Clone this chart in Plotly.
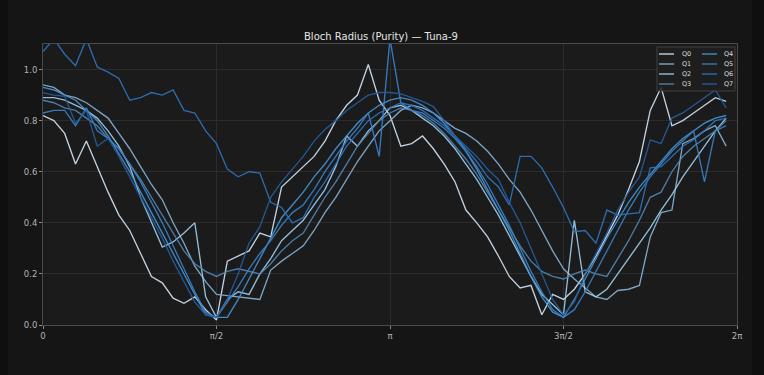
import math
import plotly.graph_objects as go

# Sampling phase: 64 points over one full turn (endpoint excluded)
n_points = 64
phase = [2 * math.pi * k / n_points for k in range(n_points)]

qubits = ["Q0", "Q1", "Q2", "Q3", "Q4", "Q5", "Q6", "Q7"]

q0 = [0.82, 0.80, 0.75, 0.63, 0.72, 0.62, 0.52, 0.43, 0.37, 0.28, 0.19, 0.165, 0.105, 0.085, 0.11, 0.06,
      0.02, 0.25, 0.27, 0.29, 0.36, 0.345, 0.54, 0.58, 0.62, 0.66, 0.72, 0.80, 0.86, 0.90, 1.02, 0.88,
      0.82, 0.70, 0.71, 0.74, 0.69, 0.63, 0.56, 0.45, 0.40, 0.345, 0.27, 0.19, 0.145, 0.155, 0.04, 0.12,
      0.10, 0.14, 0.20, 0.27, 0.35, 0.43, 0.53, 0.64, 0.84, 0.93, 0.78, 0.80, 0.83, 0.86, 0.89, 0.875]
q1 = [0.94, 0.93, 0.90, 0.89, 0.87, 0.84, 0.81, 0.75, 0.69, 0.62, 0.55, 0.49, 0.40, 0.32, 0.23, 0.17,
      0.12, 0.115, 0.11, 0.105, 0.10, 0.215, 0.25, 0.28, 0.31, 0.37, 0.44, 0.50, 0.57, 0.64, 0.70, 0.76,
      0.80, 0.84, 0.86, 0.85, 0.83, 0.80, 0.77, 0.75, 0.72, 0.68, 0.63, 0.57, 0.52, 0.45, 0.37, 0.29,
      0.22, 0.18, 0.145, 0.11, 0.10, 0.135, 0.14, 0.155, 0.345, 0.44, 0.45, 0.71, 0.73, 0.76, 0.78, 0.70]
q2 = [0.89, 0.89, 0.88, 0.86, 0.84, 0.81, 0.76, 0.70, 0.62, 0.50, 0.40, 0.305, 0.325, 0.36, 0.40, 0.11,
      0.03, 0.10, 0.13, 0.12, 0.20, 0.26, 0.33, 0.37, 0.41, 0.47, 0.53, 0.62, 0.74, 0.70, 0.76, 0.80,
      0.85, 0.86, 0.84, 0.81, 0.78, 0.74, 0.69, 0.63, 0.57, 0.50, 0.43, 0.35, 0.27, 0.19, 0.12, 0.08,
      0.04, 0.41, 0.13, 0.11, 0.14, 0.20, 0.26, 0.32, 0.38, 0.45, 0.51, 0.58, 0.64, 0.70, 0.76, 0.81]
q3 = [0.88, 0.87, 0.85, 0.84, 0.81, 0.78, 0.73, 0.69, 0.63, 0.57, 0.50, 0.43, 0.36, 0.29, 0.24, 0.21,
      0.19, 0.21, 0.22, 0.21, 0.20, 0.24, 0.29, 0.33, 0.36, 0.43, 0.50, 0.56, 0.63, 0.70, 0.75, 0.80,
      0.83, 0.85, 0.84, 0.82, 0.79, 0.75, 0.70, 0.65, 0.59, 0.52, 0.45, 0.38, 0.31, 0.25, 0.21, 0.19,
      0.18, 0.20, 0.215, 0.20, 0.19, 0.26, 0.33, 0.41, 0.50, 0.52, 0.60, 0.66, 0.70, 0.73, 0.76, 0.78]
q4 = [0.93, 0.92, 0.90, 0.88, 0.84, 0.80, 0.74, 0.67, 0.60, 0.52, 0.44, 0.36, 0.28, 0.20, 0.12, 0.04,
      0.03, 0.03, 0.10, 0.18, 0.26, 0.34, 0.42, 0.47, 0.52, 0.58, 0.63, 0.69, 0.74, 0.79, 0.83, 0.86,
      0.88, 0.89, 0.88, 0.86, 0.83, 0.79, 0.74, 0.68, 0.61, 0.53, 0.45, 0.37, 0.28, 0.19, 0.11, 0.05,
      0.03, 0.10, 0.18, 0.26, 0.34, 0.41, 0.48, 0.54, 0.59, 0.64, 0.69, 0.73, 0.76, 0.79, 0.81, 0.82]
q5 = [0.83, 0.84, 0.84, 0.78, 0.85, 0.76, 0.73, 0.69, 0.63, 0.56, 0.48, 0.40, 0.31, 0.22, 0.13, 0.05,
      0.03, 0.09, 0.15, 0.22, 0.28, 0.33, 0.39, 0.44, 0.47, 0.53, 0.60, 0.66, 0.72, 0.77, 0.83, 0.66,
      1.12, 0.87, 0.84, 0.83, 0.80, 0.77, 0.73, 0.68, 0.62, 0.55, 0.47, 0.39, 0.30, 0.21, 0.13, 0.06,
      0.03, 0.06, 0.13, 0.21, 0.29, 0.37, 0.45, 0.52, 0.58, 0.63, 0.68, 0.72, 0.76, 0.56, 0.76, 0.80]
q6 = [1.07, 1.12, 1.06, 1.015, 1.12, 1.01, 0.99, 0.965, 0.88, 0.89, 0.91, 0.90, 0.92, 0.84, 0.83, 0.76,
      0.71, 0.61, 0.58, 0.60, 0.595, 0.48, 0.46, 0.40, 0.42, 0.50, 0.56, 0.63, 0.70, 0.75, 0.80, 0.83,
      0.85, 0.87, 0.86, 0.84, 0.81, 0.78, 0.74, 0.69, 0.64, 0.58, 0.54, 0.47, 0.66, 0.66, 0.615, 0.54,
      0.46, 0.365, 0.37, 0.32, 0.45, 0.43, 0.435, 0.44, 0.615, 0.62, 0.66, 0.70, 0.725, 0.76, 0.80, 0.81]
q7 = [0.91, 0.90, 0.895, 0.79, 0.84, 0.70, 0.73, 0.66, 0.58, 0.50, 0.42, 0.34, 0.25, 0.17, 0.09, 0.04,
      0.03, 0.10, 0.20, 0.32, 0.385, 0.50, 0.56, 0.61, 0.66, 0.72, 0.765, 0.80, 0.84, 0.87, 0.90, 0.91,
      0.91, 0.905, 0.89, 0.875, 0.855, 0.80, 0.74, 0.70, 0.66, 0.61, 0.57, 0.48, 0.40, 0.30, 0.20, 0.10,
      0.04, 0.09, 0.20, 0.28, 0.36, 0.45, 0.52, 0.58, 0.725, 0.71, 0.81, 0.83, 0.86, 0.89, 0.92, 0.85]

radii = [q0, q1, q2, q3, q4, q5, q6, q7]
colors = ["#cfe1f2", "#86b0d2", "#9ccbea", "#4f86b4", "#4693d3", "#3a80c6", "#2f73bc", "#255d9c"]

x_tickvals = [0, math.pi / 2, math.pi, 3 * math.pi / 2, 2 * math.pi]
x_ticktext = ["0", "π/2", "π", "3π/2", "2π"]
y_tickvals = [0.0, 0.2, 0.4, 0.6, 0.8, 1.0]
y_ticktext = ["0.0", "0.2", "0.4", "0.6", "0.8", "1.0"]

FONT = "DejaVu Sans, Arial, sans-serif"
PAPER = "#151515"
PLOT = "#1b1b1b"

fig = go.Figure()
for name, ys, col in zip(qubits, radii, colors):
    fig.add_trace(go.Scatter(
        x=phase, y=ys, mode="lines", name=name,
        line=dict(color=col, width=1.35), opacity=0.92,
        showlegend=False,
    ))

# Plot-area geometry in pixels (used to place the legend box in paper units)
L, R, T, B = 43, 737, 44, 325
W, H = R - L, B - T


def px_x(px):
    return (px - L) / W


def px_y(py):
    return (B - py) / H


shapes = [
    # darker page edges around the figure
    dict(type="rect", xref="paper", yref="paper", layer="below",
         x0=px_x(0), x1=px_x(8), y0=px_y(375), y1=px_y(0),
         fillcolor="#0f0f0f", line=dict(width=0)),
    dict(type="rect", xref="paper", yref="paper", layer="below",
         x0=px_x(752), x1=px_x(764), y0=px_y(375), y1=px_y(0),
         fillcolor="#0f0f0f", line=dict(width=0)),
    # legend frame
    dict(type="rect", xref="paper", yref="paper", layer="above",
         x0=px_x(657), x1=px_x(735), y0=px_y(91), y1=px_y(47),
         fillcolor="rgba(30,30,30,0.85)", line=dict(color="#4a4a4a", width=0.8)),
]
annotations = [
    dict(text="Bloch Radius (Purity) — Tuna-9", xref="paper", yref="paper",
         x=px_x(381), y=px_y(36), xanchor="center", yanchor="middle", showarrow=False,
         font=dict(family=FONT, size=10, color="#e6e6e6")),
]

# Two-column legend: Q0–Q3 on the left, Q4–Q7 on the right
row_py = [54, 64, 74, 84]
col_px = [(659, 674, 680), (702, 717, 722)]
for i, (name, col) in enumerate(zip(qubits, colors)):
    c = col_px[i // 4]
    r = row_py[i % 4]
    shapes.append(dict(type="line", xref="paper", yref="paper", layer="above",
                       x0=px_x(c[0]), x1=px_x(c[1]), y0=px_y(r), y1=px_y(r),
                       line=dict(color=col, width=1.3)))
    annotations.append(dict(text=name, xref="paper", yref="paper",
                            x=px_x(c[2]), y=px_y(r), xanchor="left", yanchor="middle",
                            showarrow=False, font=dict(family=FONT, size=6.5, color="#dddddd")))

axis_common = dict(
    showgrid=True, gridcolor="#2c2c2c", gridwidth=0.7,
    showline=True, linecolor="#4a4a4a", linewidth=1, mirror=True,
    ticks="outside", ticklen=3, tickcolor="#8a8a8a", tickwidth=1,
    zeroline=False, tickfont=dict(family=FONT, size=8.5, color="#b4b4b4"),
)

fig.update_layout(
    width=764, height=375,
    margin=dict(l=L, r=764 - R, t=T, b=375 - B),
    paper_bgcolor=PAPER, plot_bgcolor=PLOT,
    xaxis=dict(range=[0, 2 * math.pi], tickvals=x_tickvals, ticktext=x_ticktext, **axis_common),
    yaxis=dict(range=[0, 1.1], tickvals=y_tickvals, ticktext=y_ticktext, **axis_common),
    shapes=shapes, annotations=annotations,
    showlegend=False,
)

fig.write_html("out.html")
